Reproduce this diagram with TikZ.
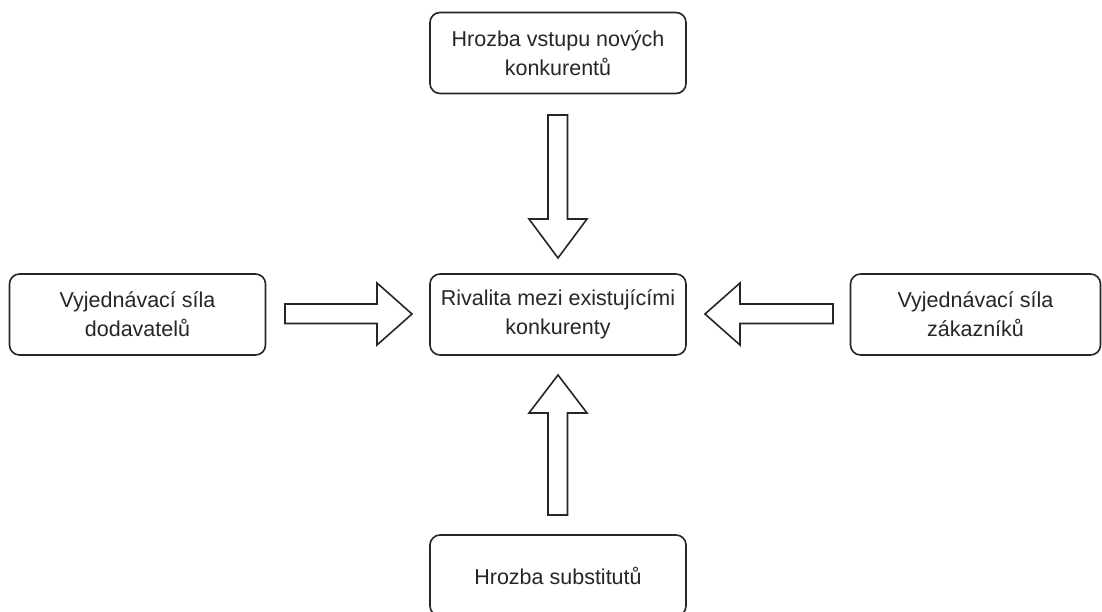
\documentclass[tikz,border=0pt]{standalone}
\usepackage{fontspec}
\setmainfont{Liberation Sans}
\begin{document}
\begin{tikzpicture}[x=1pt,y=-1pt,
  box/.style={draw=black!85, line width=1.6pt, rounded corners=10pt, fill=white,
    minimum width=256pt, minimum height=81pt, align=center, inner sep=0pt,
    font=\fontsize{21.5}{29}\selectfont, text=black!85},
  blockarrow/.style={draw=black!85, line width=1.6pt, fill=white, line join=miter}]
\useasboundingbox (0,0) rectangle (1102,612);
\node[box] (top) at (558,53) {Hrozba vstupu nových\\konkurentů};
\node[box] (left) at (137.5,314.5) {Vyjednávací síla\\dodavatelů};
\node[box] (mid) at (558,314.5) {Rivalita mezi existujícími\\konkurenty};
\node[box, minimum width=250pt] (right) at (975.5,314.5) {Vyjednávací síla\\zákazníků};
\node[box] (bot) at (558,575.5) {Hrozba substitutů};
% top arrow (down)
\draw[blockarrow] (548,115) -- (567.5,115) -- (567.5,219) -- (587,219) -- (558,258)
  -- (529,219) -- (548,219) -- cycle;
% bottom arrow (up)
\draw[blockarrow] (548,515) -- (567.5,515) -- (567.5,413) -- (587,413) -- (558,375)
  -- (529,413) -- (548,413) -- cycle;
% left arrow (right)
\draw[blockarrow] (285,304) -- (377,304) -- (377,283) -- (412,314) -- (377,345)
  -- (377,323.5) -- (285,323.5) -- cycle;
% right arrow (left)
\draw[blockarrow] (833,304) -- (740,304) -- (740,283) -- (705,314) -- (740,345)
  -- (740,323.5) -- (833,323.5) -- cycle;
\end{tikzpicture}
\end{document}
